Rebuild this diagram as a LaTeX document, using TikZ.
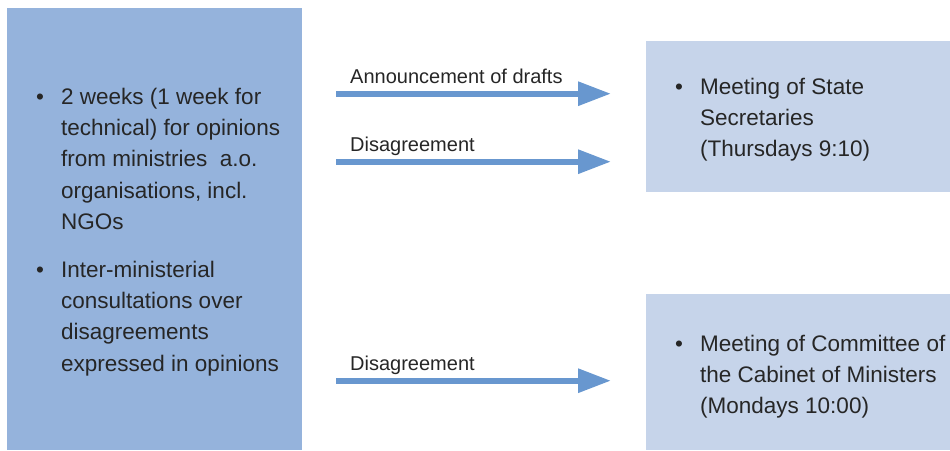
\documentclass[tikz,border=0pt]{standalone}
\usepackage{fontspec}
\setmainfont{Liberation Sans}
\usetikzlibrary{arrows.meta}

\definecolor{leftfill}{RGB}{149,179,220}
\definecolor{rightfill}{RGB}{198,212,234}
\definecolor{arrowblue}{RGB}{104,151,207}
\definecolor{inktext}{RGB}{38,38,38}

% a bulleted paragraph whose first baseline is the node's base;
% lines are broken with \newline so the hanging indent holds
\newcommand{\bulletpar}[1]{\parbox[t]{320pt}{\raggedright
  \fontsize{22.5}{31.4}\selectfont\hangindent=25pt\hangafter=1
  \noindent\makebox[25pt][l]{\textbullet}#1}}

\tikzset{
  panel/.style={draw=none, inner sep=0pt, anchor=north west},
  bodytext/.style={inner sep=0pt, anchor=base west, text=inktext},
  flowlabel/.style={inner sep=0pt, anchor=base west, text=inktext,
    font=\fontsize{20}{24}\selectfont},
  flow/.style={draw=arrowblue, line width=6pt,
    -{Triangle[length=33pt,width=23pt]}}
}

\begin{document}
\begin{tikzpicture}[x=1pt,y=-1pt]
  \useasboundingbox (0,0) rectangle (950,450);

  % boxes
  \node[panel, fill=leftfill, minimum width=295pt, minimum height=442pt]
    (consult) at (7,8) {};
  \node[panel, fill=rightfill, minimum width=304pt, minimum height=151pt]
    (secretaries) at (646,41) {};
  \node[panel, fill=rightfill, minimum width=304pt, minimum height=156pt]
    (cabinet) at (646,294) {};

  % texts in the left box
  \node[bodytext] (opinions) at (36,104) {\bulletpar{2 weeks (1 week for\newline
    technical) for opinions\newline from ministries\ \ a.o.\newline
    organisations, incl.\newline NGOs}};
  \node[bodytext] (interministerial) at (36,277) {\bulletpar{Inter-ministerial\newline
    consultations over\newline disagreements\newline expressed in opinions}};

  % texts in the right boxes
  \node[bodytext] (secretariestext) at (675,94) {\bulletpar{Meeting of State\newline
    Secretaries\newline (Thursdays 9:10)}};
  \node[bodytext] (cabinettext) at (675,351) {\bulletpar{Meeting of Committee of\newline
    the Cabinet of Ministers\newline (Mondays 10:00)}};

  % arrow ends
  \coordinate (a1s) at (336,93.7);  \coordinate (a1e) at (611,93.7);
  \coordinate (a2s) at (336,161.7); \coordinate (a2e) at (611,161.7);
  \coordinate (a3s) at (336,380.7); \coordinate (a3e) at (611,380.7);

  \draw[flow] (a1s) -- (a1e);
  \draw[flow] (a2s) -- (a2e);
  \draw[flow] (a3s) -- (a3e);

  % arrow labels
  \node[flowlabel] (announce) at (350,83) {Announcement of drafts};
  \node[flowlabel] (disagree1) at (350,151) {Disagreement};
  \node[flowlabel] (disagree2) at (350,370) {Disagreement};
\end{tikzpicture}
\end{document}
